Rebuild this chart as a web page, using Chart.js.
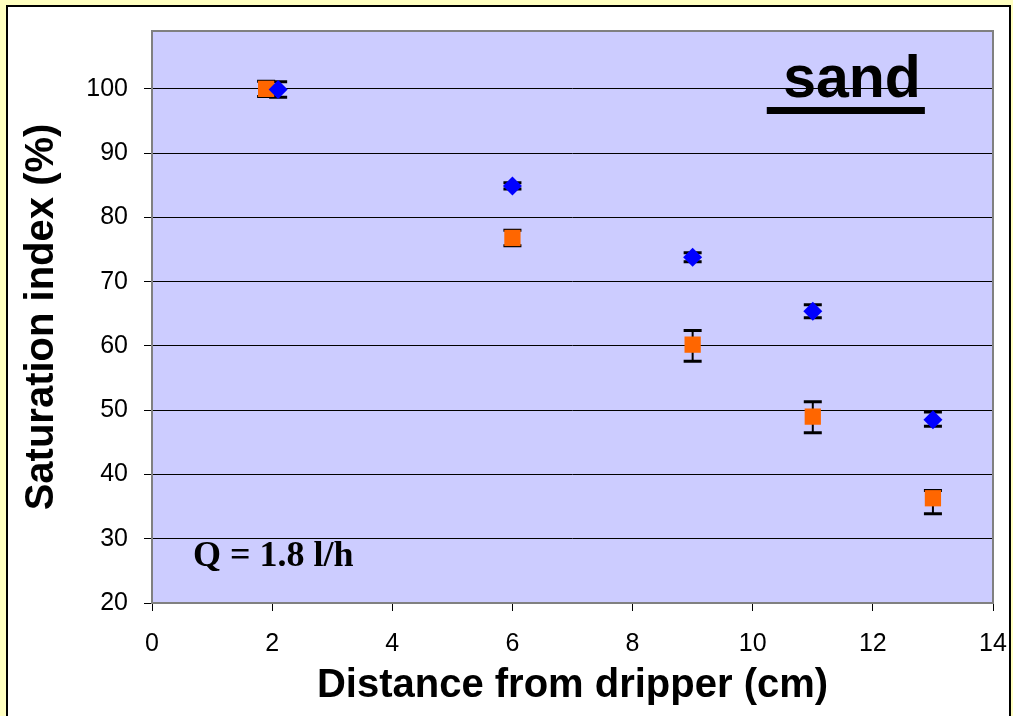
<!DOCTYPE html>
<html>
<head>
<meta charset="utf-8">
<script src="https://cdn.jsdelivr.net/npm/chart.js@4.4.1/dist/chart.umd.min.js"></script>
<style>
  body { margin: 0; background: #ffffc0; }
  canvas { display: block; }
</style>
</head>
<body>
<canvas id="myChart" width="1013" height="716"></canvas>
<script>
// data
var blueX = [2.1, 6, 9, 11, 13];
var blueY = [99.9, 84.9, 73.8, 65.4, 48.5];
var blueErrUp = [1.2, 0.5, 0.7, 1.0, 1.2];
var blueErrDown = [1.2, 0.5, 0.7, 1.0, 1.0];

var orangeX = [1.9, 6, 9, 11, 13];
var orangeY = [100, 76.8, 60.2, 49.0, 36.3];
var orangeErrUp = [1.2, 1.2, 2.2, 2.3, 1.2];
var orangeErrDown = [1.2, 1.2, 2.6, 2.5, 2.4];

var xTicks = [0, 2, 4, 6, 8, 10, 12, 14];
var yTicks = [20, 30, 40, 50, 60, 70, 80, 90, 100];

var soilLabel = " sand";
var flowLabel = "Q = 1.8 l/h";

function toPoints(xs, ys) {
    var pts = [];
    for (var i = 0; i < xs.length; i++) {
        pts.push({ x: xs[i], y: ys[i] });
    }
    return pts;
}

var errSets = [
    { up: blueErrUp, down: blueErrDown },
    { up: orangeErrUp, down: orangeErrDown }
];

//frame, plot background, text boxes
var decoPlugin = {
    id: "deco",
    beforeDraw: function (chart) {
        var c = chart.ctx;
        var a = chart.chartArea;
        c.save();
        c.fillStyle = "#ffffc0";
        c.fillRect(0, 0, chart.width, chart.height);
        c.fillStyle = "#ffffff";
        c.fillRect(6, 5, chart.width - 8, chart.height);
        c.strokeStyle = "#000000";
        c.lineWidth = 2;
        c.strokeRect(7, 6, chart.width - 10, chart.height + 10);
        c.fillStyle = "#ccccff";
        c.fillRect(a.left, a.top, a.right - a.left, a.bottom - a.top);
        c.restore();
    },
    beforeDatasetsDraw: function (chart) {
        var c = chart.ctx;
        var xs = chart.scales.x;
        var ys = chart.scales.y;
        c.save();
        c.strokeStyle = "#000000";
        chart.data.datasets.forEach(function (ds, di) {
            var e = errSets[di];
            ds.data.forEach(function (p, i) {
                var px = xs.getPixelForValue(p.x);
                var top = ys.getPixelForValue(p.y + e.up[i]);
                var bot = ys.getPixelForValue(p.y - e.down[i]);
                c.lineWidth = 2;
                c.beginPath();
                c.moveTo(px, top);
                c.lineTo(px, bot);
                c.stroke();
                c.lineWidth = 3;
                c.beginPath();
                c.moveTo(px - 9, top);
                c.lineTo(px + 9, top);
                c.moveTo(px - 9, bot);
                c.lineTo(px + 9, bot);
                c.stroke();
            });
        });
        c.restore();
    },
    afterDraw: function (chart) {
        var c = chart.ctx;
        var a = chart.chartArea;
        c.save();
        c.strokeStyle = "#808080";
        c.lineWidth = 2;
        c.strokeRect(a.left, a.top, a.right - a.left, a.bottom - a.top);

        //soil type label, underlined
        c.fillStyle = "#000000";
        c.font = "bold 59px 'Liberation Sans', Arial, sans-serif";
        c.textBaseline = "alphabetic";
        c.textAlign = "left";
        var sx = a.left + (a.right - a.left) * 0.731;
        var sy = a.top + 66;
        c.fillText(soilLabel, sx, sy);
        var w = c.measureText(soilLabel).width;
        c.fillRect(sx, sy + 10, w + 4, 7);

        c.font = "bold 36px 'Liberation Serif', 'Times New Roman', serif";
        c.fillText(flowLabel, a.left + 41, a.top + 535);
        c.restore();
    }
};

var ctx = document.getElementById("myChart").getContext("2d");
window.myChart = new Chart(ctx, {
    type: "scatter",
    data: {
        datasets: [
            {
                label: "blue",
                data: toPoints(blueX, blueY),
                pointStyle: "rectRot",
                pointRadius: 9.5,
                backgroundColor: "#0000ff",
                borderColor: "#0000ff",
                borderWidth: 0
            },
            {
                label: "orange",
                data: toPoints(orangeX, orangeY),
                pointStyle: "rect",
                pointRadius: 11.5,
                backgroundColor: "#ff6600",
                borderColor: "#ff6600",
                borderWidth: 0
            }
        ]
    },
    options: {
        responsive: false,
        animation: false,
        layout: { padding: { left: 18, top: 31, right: 20, bottom: 8 } },
        plugins: {
            legend: { display: false },
            tooltip: { enabled: false }
        },
        scales: {
            x: {
                type: "linear",
                min: 0,
                max: 14,
                afterBuildTicks: function (axis) {
                    axis.ticks = xTicks.map(function (v) { return { value: v }; });
                },
                afterFit: function (axis) {
                    axis.height = 105;
                    axis.paddingLeft = 0;
                    axis.paddingRight = 0;
                },
                grid: { drawOnChartArea: false, color: "#000000", tickLength: 8 },
                border: { display: false },
                ticks: {
                    color: "#000000",
                    padding: 18,
                    maxRotation: 0,
                    font: { family: "'Liberation Sans', Arial, sans-serif", size: 25 }
                },
                title: {
                    display: true,
                    text: "Distance from dripper (cm)",
                    color: "#000000",
                    padding: { top: 0, bottom: -2 },
                    font: { family: "'Liberation Sans', Arial, sans-serif", size: 40, weight: "bold" }
                }
            },
            y: {
                type: "linear",
                min: 20,
                max: 109,
                afterBuildTicks: function (axis) {
                    axis.ticks = yTicks.map(function (v) { return { value: v }; });
                },
                afterFit: function (axis) {
                    axis.width = 134;
                    axis.paddingTop = 0;
                    axis.paddingBottom = 0;
                },
                grid: { color: "#000000", lineWidth: 1, tickLength: 8 },
                border: { display: false },
                ticks: {
                    color: "#000000",
                    padding: 16,
                    font: { family: "'Liberation Sans', Arial, sans-serif", size: 25 }
                },
                title: {
                    display: true,
                    text: "Saturation index (%)",
                    color: "#000000",
                    padding: 0,
                    font: { family: "'Liberation Sans', Arial, sans-serif", size: 40, weight: "bold" }
                }
            }
        }
    },
    plugins: [decoPlugin]
});
</script>
</body>
</html>
